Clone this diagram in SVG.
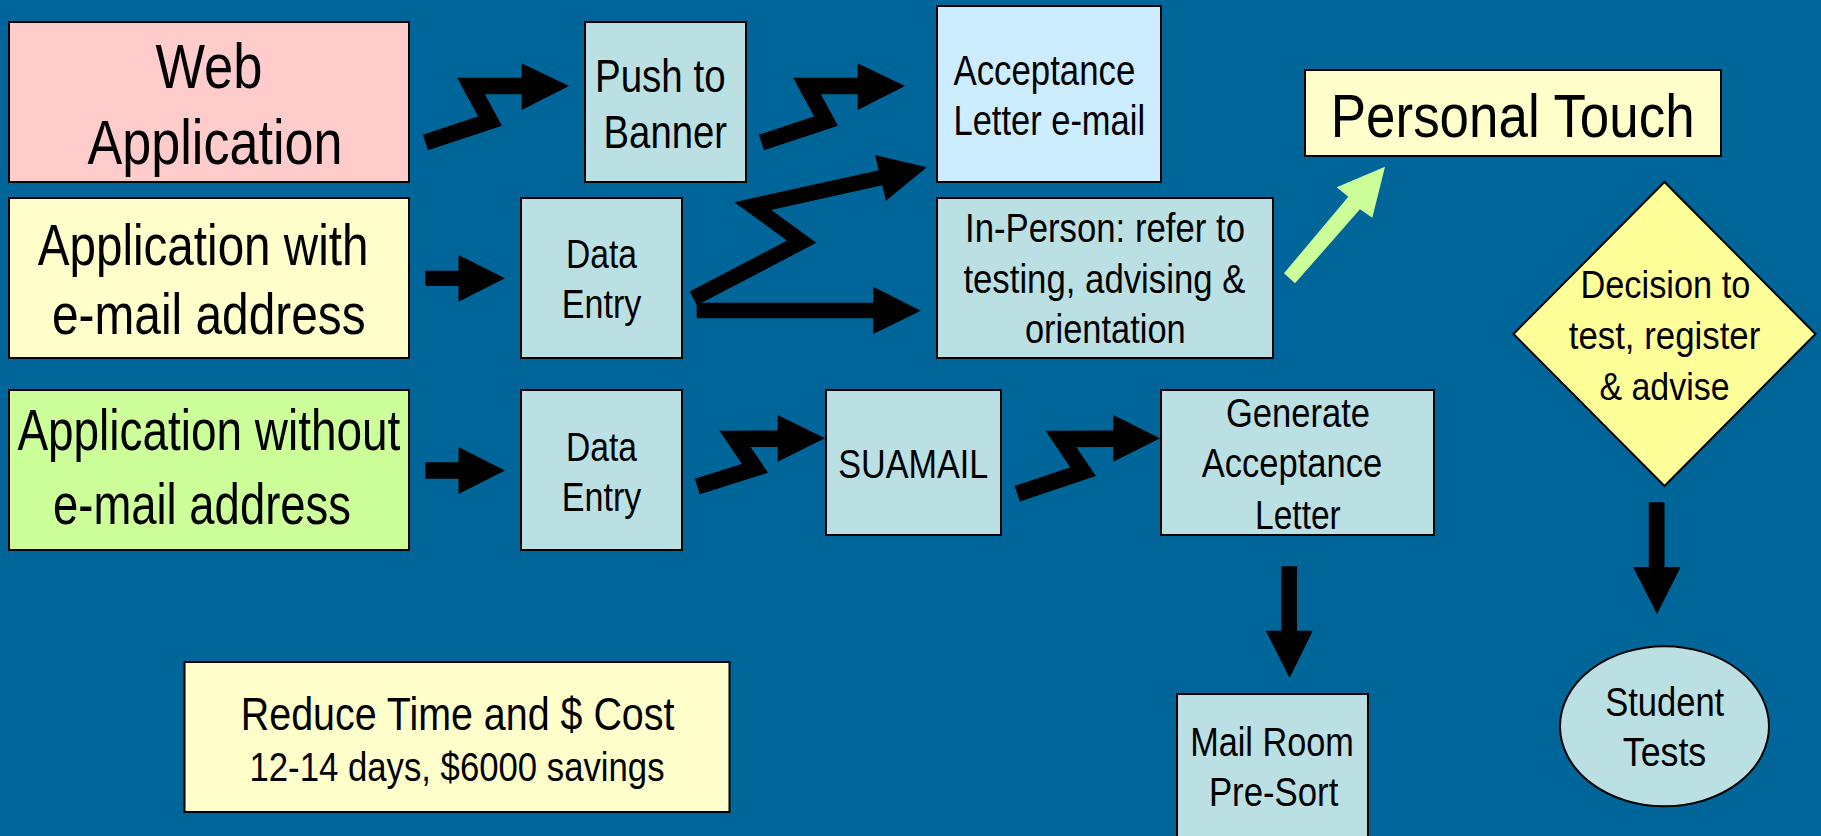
<svg xmlns="http://www.w3.org/2000/svg" width="1821" height="836" viewBox="0 0 1821 836">
<style>
.box{stroke:#000;stroke-width:2}
.pink{fill:#FFCCCC}.yel{fill:#FFFFCC}.grn{fill:#CCFF99}.gry{fill:#BBE0E3}.lb{fill:#CCECFF}.dia{fill:#FFFF99}
text{font-family:"Liberation Sans Narrow","Liberation Sans",Arial,sans-serif;fill:#000;text-anchor:middle}
.zz{fill:none;stroke:#000;stroke-width:16.5;stroke-linejoin:miter;stroke-miterlimit:6}
.blk{fill:#000}
</style>
<rect x="0" y="0" width="1821" height="836" fill="#006699"/>

<g id="connectors">
  <polyline class="zz" points="425.5,142.5 490,121 471,86 524,86"/>
  <polygon class="blk" points="521.7,63.3 569,86 521.7,110"/>
  <polyline class="zz" points="761.5,142.5 826,121 807,86 860,86"/>
  <polygon class="blk" points="857.7,63.3 905,86 857.7,110"/>
  <polyline class="zz" style="stroke-width:15.5" points="693.3,298.3 801.7,241.7 752.7,206 884,177"/>
  <polygon class="blk" points="875,155 926.7,167.3 886,200.7"/>
  <polygon class="blk" points="696.7,302.7 873.3,302.7 873.3,286.7 920.7,310.7 873.3,334 873.3,318.3 696.7,318.3"/>
  <polygon class="blk" points="425.4,270.7 458.5,270.7 458.5,255 505,278.3 458.5,301.7 458.5,286 425.4,286"/>
  <polygon class="blk" points="425.4,462.3 458.5,462.3 458.5,447 505,470.5 458.5,494 458.5,478.7 425.4,478.7"/>
  <polyline class="zz" points="697.3,486.5 755,468.3 735,439 780,438.7"/>
  <polygon class="blk" points="777.7,415 825,438.3 777.7,461.7"/>
  <polyline class="zz" points="1017.3,493.7 1083,471.7 1061,439 1116,438.7"/>
  <polygon class="blk" points="1113.3,415 1160,438.3 1113.3,461.7"/>
  <polygon class="blk" points="1281.4,566.3 1297.1,566.3 1297.1,630.7 1312.8,630.7 1289.6,678 1265.8,630.7 1281.4,630.7"/>
  <polygon class="blk" points="1648.8,502.3 1664.5,502.3 1664.5,567 1680.7,567 1657,614 1633.1,567 1648.8,567"/>
  <polygon fill="#CCFF99" points="1284,273.3 1348.3,196.7 1336.7,187.3 1385,166.7 1372.3,217.7 1360,209.3 1295,283.3"/>
</g>

<g id="web">
  <rect class="box pink" x="9" y="22" width="400" height="160"/>
  <text x="209" y="88" font-size="63" textLength="107" lengthAdjust="spacingAndGlyphs">Web</text>
  <text x="215" y="164" font-size="63" textLength="255" lengthAdjust="spacingAndGlyphs">Application</text>
</g>
<g id="push">
  <rect class="box gry" x="585" y="22" width="161" height="160"/>
  <text x="660.3" y="91.7" font-size="46" textLength="130.5" lengthAdjust="spacingAndGlyphs">Push to</text>
  <text x="665.3" y="148.3" font-size="46" textLength="123.4" lengthAdjust="spacingAndGlyphs">Banner</text>
</g>
<g id="accemail">
  <rect class="box lb" x="937" y="6" width="224" height="176"/>
  <text x="1044.4" y="85" font-size="42" textLength="181.7" lengthAdjust="spacingAndGlyphs">Acceptance</text>
  <text x="1049.3" y="135" font-size="42" textLength="191.5" lengthAdjust="spacingAndGlyphs">Letter e-mail</text>
</g>
<g id="personal">
  <rect class="box yel" x="1305" y="70" width="416" height="86"/>
  <text x="1512.7" y="137.3" font-size="62" textLength="363.8" lengthAdjust="spacingAndGlyphs">Personal Touch</text>
</g>
<g id="appwith">
  <rect class="box yel" x="9" y="198" width="400" height="160"/>
  <text x="203.1" y="265" font-size="57" textLength="330.8" lengthAdjust="spacingAndGlyphs">Application with</text>
  <text x="208.8" y="334.3" font-size="57" textLength="313.6" lengthAdjust="spacingAndGlyphs">e-mail address</text>
</g>
<g id="data1">
  <rect class="box gry" x="521" y="198" width="161" height="160"/>
  <text x="601.5" y="268.3" font-size="40" textLength="71" lengthAdjust="spacingAndGlyphs">Data</text>
  <text x="601.5" y="318.3" font-size="40" textLength="79.5" lengthAdjust="spacingAndGlyphs">Entry</text>
</g>
<g id="inperson">
  <rect class="box gry" x="937" y="198" width="336" height="160"/>
  <text x="1105" y="241.7" font-size="40" textLength="280" lengthAdjust="spacingAndGlyphs">In-Person: refer to</text>
  <text x="1104.4" y="292.7" font-size="40" textLength="282" lengthAdjust="spacingAndGlyphs">testing, advising &amp;</text>
  <text x="1105.3" y="343.3" font-size="40" textLength="160.8" lengthAdjust="spacingAndGlyphs">orientation</text>
</g>
<g id="decision">
  <polygon class="box dia" points="1664.5,182 1815.5,334 1664.5,486 1513.5,334"/>
  <text x="1665.4" y="297.7" font-size="39" textLength="170" lengthAdjust="spacingAndGlyphs">Decision to</text>
  <text x="1664.5" y="349.3" font-size="39" textLength="191.5" lengthAdjust="spacingAndGlyphs">test, register</text>
  <text x="1664.5" y="400" font-size="39" textLength="130" lengthAdjust="spacingAndGlyphs">&amp; advise</text>
</g>
<g id="appwithout">
  <rect class="box grn" x="9" y="390" width="400" height="160"/>
  <text x="208.9" y="449.7" font-size="57" textLength="383" lengthAdjust="spacingAndGlyphs">Application without</text>
  <text x="202" y="524" font-size="57" textLength="298" lengthAdjust="spacingAndGlyphs">e-mail address</text>
</g>
<g id="data2">
  <rect class="box gry" x="521" y="390" width="161" height="160"/>
  <text x="601.5" y="460.7" font-size="40" textLength="71" lengthAdjust="spacingAndGlyphs">Data</text>
  <text x="601.5" y="510.7" font-size="40" textLength="79.5" lengthAdjust="spacingAndGlyphs">Entry</text>
</g>
<g id="suamail">
  <rect class="box gry" x="826" y="390" width="175" height="145"/>
  <text x="913.3" y="478.3" font-size="40" textLength="150" lengthAdjust="spacingAndGlyphs">SUAMAIL</text>
</g>
<g id="generate">
  <rect class="box gry" x="1161" y="390" width="273" height="145"/>
  <text x="1298" y="426.7" font-size="41" textLength="144" lengthAdjust="spacingAndGlyphs">Generate</text>
  <text x="1292" y="477.3" font-size="41" textLength="180.6" lengthAdjust="spacingAndGlyphs">Acceptance</text>
  <text x="1297.9" y="529" font-size="41" textLength="85.7" lengthAdjust="spacingAndGlyphs">Letter</text>
</g>
<g id="reduce">
  <rect class="box yel" x="184.5" y="662" width="545" height="150"/>
  <text x="457.6" y="729.7" font-size="46" textLength="433.6" lengthAdjust="spacingAndGlyphs">Reduce Time and $ Cost</text>
  <text x="457" y="781.3" font-size="40" textLength="415" lengthAdjust="spacingAndGlyphs">12-14 days, $6000 savings</text>
</g>
<g id="mailroom">
  <rect class="box gry" x="1177" y="694" width="191" height="160"/>
  <text x="1272" y="756.3" font-size="40" textLength="163.7" lengthAdjust="spacingAndGlyphs">Mail Room</text>
  <text x="1273.6" y="806.3" font-size="40" textLength="129.4" lengthAdjust="spacingAndGlyphs">Pre-Sort</text>
</g>
<g id="studenttests">
  <ellipse class="box gry" cx="1664.5" cy="726.3" rx="104.5" ry="80"/>
  <text x="1664.7" y="715.7" font-size="40" textLength="119" lengthAdjust="spacingAndGlyphs">Student</text>
  <text x="1664.5" y="766.3" font-size="40" textLength="83.5" lengthAdjust="spacingAndGlyphs">Tests</text>
</g>
</svg>
